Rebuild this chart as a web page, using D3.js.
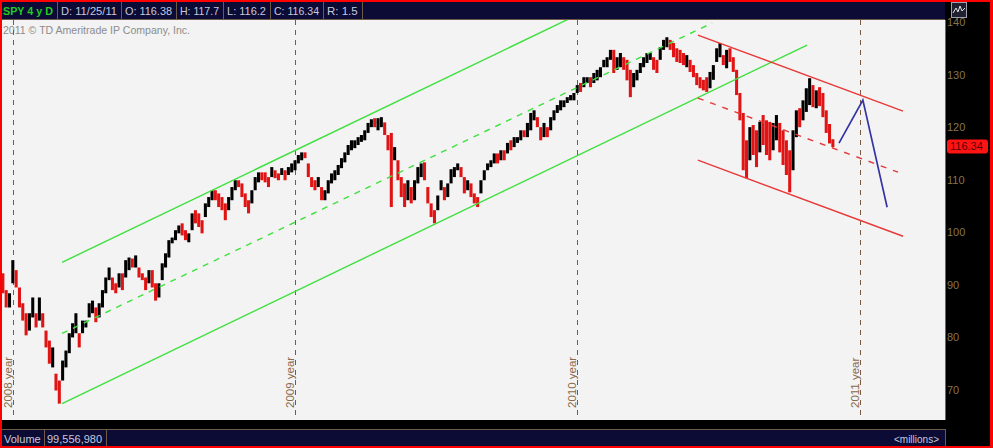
<!DOCTYPE html>
<html><head><meta charset="utf-8">
<script src="https://cdn.jsdelivr.net/npm/d3@7"></script>
<style>html,body{margin:0;padding:0;background:#000;} svg{display:block;font-family:"Liberation Sans",Arial,sans-serif;}</style>
</head><body><svg id="c" width="993" height="448"></svg>
<script>
// ---- data ----
const highs = [92.2,89.0,88.4,94.7,92.8,89.5,86.5,84.6,84.6,87.6,84.6,87.6,84.6,81.3,79.4,78.1,73.1,71.8,75.6,77.5,
80.8,82.7,84.6,80.8,83.2,83.2,86.5,87.0,85.7,86.5,89.0,91.4,93.3,91.4,90.3,92.2,92.2,94.7,95.2,95.0,
95.6,93.3,92.2,91.4,92.8,92.8,90.3,90.3,94.1,96.0,98.5,99.0,100.4,101.3,101.7,100.4,99.8,103.6,104.2,103.6,
102.3,105.5,106.7,108.0,108.0,107.4,106.7,105.5,106.7,108.6,109.9,109.9,109.3,107.4,106.1,108.0,110.5,111.4,111.4,111.4,
110.5,112.4,111.8,111.2,112.2,111.8,112.4,113.1,113.7,114.7,115.2,115.2,113.1,110.5,109.9,110.5,108.6,108.0,109.9,111.2,
111.8,112.8,114.1,115.2,116.6,117.5,117.5,118.1,118.5,119.4,120.8,121.5,121.7,121.7,121.9,120.9,118.5,118.9,116.2,113.7,
110.5,109.3,109.9,108.6,109.9,112.4,113.1,113.3,108.6,105.5,104.2,107.0,109.9,108.6,109.3,112.0,112.4,113.1,112.4,110.5,
109.9,109.3,107.4,106.7,109.9,111.8,113.1,113.7,115.0,115.0,115.6,115.6,117.0,117.5,118.1,118.1,119.4,119.4,120.8,122.7,
123.2,121.9,120.0,120.8,120.0,121.9,123.2,124.2,125.1,125.1,125.7,126.1,126.5,128.0,128.4,129.5,129.5,129.5,130.3,130.9,
131.4,132.8,133.3,134.7,134.7,133.3,134.1,133.3,132.8,130.9,130.3,130.9,132.2,133.3,134.1,134.1,133.3,132.8,135.2,136.6,
137.1,136.6,136.0,135.0,134.7,134.1,133.7,132.8,131.8,130.3,129.5,129.0,129.5,130.5,131.8,135.0,136.0,133.7,134.7,135.0,
133.3,130.9,126.5,122.7,117.5,120.0,120.4,119.4,121.0,122.3,121.3,121.0,120.8,122.3,120.8,119.4,117.5,115.6,119.4,123.2,
123.6,125.1,127.4,129.3,128.0,127.0,127.6,126.5,123.2,120.6,117.7];
const lows = [88.4,85.7,85.7,90.3,89.5,85.7,83.2,80.4,81.3,83.8,81.9,83.2,81.9,78.1,75.0,74.3,69.9,67.4,71.8,74.3,
77.0,80.0,80.8,78.1,80.8,81.9,83.8,84.6,82.9,83.8,85.7,88.4,90.9,89.0,88.4,89.5,89.0,91.4,92.8,93.3,
93.3,91.4,90.9,89.0,90.3,89.5,87.0,87.6,90.9,93.3,95.2,97.9,98.5,99.8,99.4,98.5,98.1,100.4,101.7,101.0,
99.8,102.9,104.8,106.1,106.1,104.8,104.2,102.3,104.2,106.1,108.0,108.6,106.7,104.8,103.6,105.5,108.0,109.5,109.9,109.5,
108.6,110.5,110.3,109.9,110.9,109.9,110.9,111.4,111.8,113.1,113.7,114.1,110.5,108.6,108.0,108.6,106.1,106.1,107.4,109.3,
109.9,110.9,112.2,113.3,114.7,115.6,116.0,116.6,117.2,117.5,118.9,120.0,120.0,119.4,120.0,118.5,115.6,104.8,113.7,109.9,
106.7,104.8,106.1,105.5,106.1,109.3,110.5,109.9,105.5,102.9,101.7,104.2,108.0,106.1,106.7,109.3,110.5,111.8,110.5,107.4,
108.0,106.7,105.5,104.8,107.4,109.9,111.8,112.4,113.1,113.1,113.7,113.7,115.0,115.6,116.2,117.0,117.5,118.1,118.1,119.4,
121.3,120.0,117.5,118.1,118.1,119.4,121.3,122.7,123.2,123.8,124.6,125.1,125.1,126.5,126.7,127.6,128.4,127.6,128.4,128.9,
129.5,131.4,131.4,132.8,130.3,130.9,131.4,130.9,128.9,125.7,127.6,128.9,130.3,131.4,132.2,132.8,130.9,130.3,132.8,134.7,
135.2,134.7,133.3,132.4,132.2,131.8,131.4,130.5,129.5,128.0,127.4,127.0,126.7,127.4,129.0,132.4,133.3,131.8,131.2,132.4,
130.5,126.1,121.3,111.8,110.3,113.7,114.7,112.4,115.2,116.6,114.7,113.7,115.6,117.5,115.2,112.8,110.9,107.6,111.8,118.1,
120.0,121.3,122.9,124.2,123.8,123.6,124.0,121.9,118.9,116.9,116.2];
const closes = [90.0,86.5,87.5,93.5,90.5,86.5,84.0,81.5,83.5,86.5,83.0,86.0,82.5,79.0,76.0,77.0,71.0,68.5,74.5,76.5,
80.0,81.5,83.5,79.0,82.5,82.8,85.5,86.0,83.5,86.0,88.5,90.5,92.5,89.5,89.0,91.5,89.5,94.0,94.5,94.0,
95.0,92.0,91.5,89.5,92.0,90.0,88.0,89.5,93.5,95.5,98.0,98.5,100.0,101.0,100.0,99.0,99.5,103.0,102.5,101.5,
100.5,105.0,106.0,107.5,106.8,105.5,105.0,103.0,106.0,108.0,109.5,109.0,107.5,105.5,104.5,107.5,110.0,111.0,110.5,110.0,
109.0,112.0,111.0,110.5,111.8,110.5,112.0,112.8,113.5,114.0,115.0,114.5,111.0,109.0,108.5,110.0,106.5,107.5,109.5,111.0,
111.0,112.5,113.5,114.5,116.0,116.0,117.0,117.5,118.0,118.5,120.5,121.0,120.5,121.0,121.5,119.0,116.0,113.0,115.5,110.5,
107.5,106.0,108.5,106.0,108.0,111.5,112.0,110.5,106.0,103.5,102.0,106.0,109.5,107.0,108.5,111.5,112.0,112.5,111.0,108.0,
109.0,107.5,106.0,105.5,109.0,111.5,112.5,113.0,114.5,113.5,115.0,114.5,116.5,116.0,117.5,117.5,119.0,118.5,120.5,122.0,
122.5,120.5,118.0,120.0,118.5,121.5,122.8,123.5,124.5,124.5,125.2,125.5,126.0,127.5,127.0,129.0,129.0,128.0,130.0,130.5,
131.0,132.5,133.0,134.0,131.0,132.5,133.5,131.5,129.5,127.0,129.5,130.0,132.0,132.8,133.5,133.5,131.5,131.0,134.5,136.0,
136.5,135.5,134.0,133.5,133.0,132.5,133.0,131.0,130.0,128.5,128.0,127.5,127.0,129.0,131.0,134.5,134.5,132.5,134.0,133.0,
131.0,127.0,122.0,113.0,112.0,118.0,116.0,114.0,120.0,119.0,117.0,115.0,119.0,121.0,117.0,114.0,112.0,109.0,117.5,122.0,
121.5,124.0,126.0,128.5,125.0,126.5,125.5,122.5,119.5,117.5,116.34];
const priceTicks = [70, 80, 90, 100, 110, 120, 130, 140];
const yearLabels = ["2008 year", "2009 year", "2010 year", "2011 year"];
const yearBars = [3, 88, 173, 258];
const headerCells = ["SPY 4 y D", "D: 11/25/11", "O: 116.38", "H: 117.7", "L: 116.2", "C: 116.34", "R: 1.5"];
const volumeCells = ["Volume", "99,556,980"];
const lastPrice = 116.34;
// drawn study lines: [bar index, price]
const greenUpper = [[17.8, 94.29], [171.0, 140.76]];
const greenMid   = [[17.8, 80.76], [213.6, 139.81]];
const greenLower = [[17.8, 67.43], [242.2, 135.62]];
const redUpper   = [[209.3, 137.52], [271.1, 123.05]];
const redMid     = [[209.3, 125.52], [269.6, 111.43]];
const redLower   = [[209.3, 113.71], [271.1, 99.24]];
const projection = [[251.8, 116.95], [259.0, 125.14], [266.3, 104.76]];

// ---- layout ----
const W = 993, H = 448;
const P = {l: 2, t: 20, r: 945, b: 420};
const headerSeps = [57, 121, 176, 223, 270, 323, 362];
const volumeSeps = [44, 106];
const svg = d3.select("#c");
const x = d3.scaleLinear().domain([0, highs.length - 1]).range([3, 833]);
const y = d3.scaleLinear().domain([70, 140]).range([390, 22]);

svg.append("rect").attr("width", W).attr("height", H).attr("fill", "#ff0000");
svg.append("rect").attr("x", 2).attr("y", 2).attr("width", 988).attr("height", 444).attr("fill", "#000");
svg.append("rect").attr("x", P.l).attr("y", P.t).attr("width", P.r - P.l).attr("height", P.b - P.t).attr("fill", "#f3f3f3");

svg.append("defs").append("clipPath").attr("id", "pc").append("rect")
  .attr("x", P.l).attr("y", P.t).attr("width", P.r - P.l).attr("height", P.b - P.t);
const g = svg.append("g").attr("clip-path", "url(#pc)");

// copyright
g.append("text").attr("x", 3).attr("y", 34).attr("font-size", 11).attr("fill", "#8c8c8c")
  .attr("textLength", 187).attr("lengthAdjust", "spacingAndGlyphs")
  .text("2011 \u00A9 TD Ameritrade IP Company, Inc.");

// year lines
yearBars.forEach((b, i) => {
  const xx = Math.round(x(b)) + 0.5;
  g.append("line").attr("x1", xx).attr("x2", xx).attr("y1", P.t).attr("y2", P.b)
    .attr("stroke", "#7d5a3e").attr("stroke-width", 1).attr("stroke-dasharray", "5,5");
  g.append("text").attr("transform", `translate(${xx - 1.5},${P.b - 12}) rotate(-90)`)
    .attr("font-size", 11.5).attr("fill", "#8a6a4c").text(yearLabels[i]);
});

// bars
const step = x(1) - x(0);
g.selectAll("rect.bar").data(highs).join("rect").attr("class", "bar")
  .attr("x", (d, i) => x(i) - step / 2)
  .attr("width", step * 0.92)
  .attr("y", d => y(d))
  .attr("height", (d, i) => Math.max(1, y(lows[i]) - y(d)))
  .attr("fill", (d, i) => (i === 0 ? closes[i] >= (highs[i] + lows[i]) / 2 : closes[i] >= closes[i - 1]) ? "#000000" : "#e01414");

// study lines
const line = d3.line().x(d => x(d[0])).y(d => y(d[1]));
const studies = [
  [greenUpper, "#3fe03f", null, 1.4],
  [greenMid, "#3fe03f", "6,6", 1.4],
  [greenLower, "#3fe03f", null, 1.4],
  [redUpper, "#e83838", null, 1.4],
  [redMid, "#e83838", "6,7", 1.4],
  [redLower, "#e83838", null, 1.4],
  [projection, "#3434a6", null, 1.7]
];
studies.forEach(([pts, col, dash, w]) => {
  g.append("path").attr("d", line(pts)).attr("fill", "none").attr("stroke", col)
    .attr("stroke-width", w).attr("stroke-dasharray", dash);
});

// plot border
svg.append("line").attr("x1", P.r + 0.5).attr("x2", P.r + 0.5).attr("y1", P.t).attr("y2", P.b)
  .attr("stroke", "#7a6650");

// right axis
const ax = svg.append("g").attr("transform", `translate(${P.r},0)`)
  .call(d3.axisRight(y).tickValues(priceTicks).tickSize(0).tickPadding(2).tickFormat(d3.format("d")));
ax.select(".domain").remove();
ax.selectAll("text").attr("fill", "#85744f").attr("font-size", 11)
  .attr("font-family", '"Liberation Sans",Arial,sans-serif');

// last price tag
const ly = y(lastPrice);
svg.append("rect").attr("x", 947).attr("y", ly - 7).attr("width", 41).attr("height", 14).attr("rx", 3)
  .attr("fill", "#ff1414");
svg.append("text").attr("x", 950).attr("y", ly).attr("dy", "0.35em").attr("font-size", 11)
  .attr("fill", "#5a0000").text(d3.format(".2f")(lastPrice));

// icon top right
svg.append("rect").attr("x", 951.5).attr("y", 2.5).attr("width", 15).attr("height", 15)
  .attr("fill", "#202030").attr("stroke", "#a0a0b0");
svg.append("path").attr("d", "M953,13 L956,8 L958,12 L960,6 L962,11 L965,8")
  .attr("fill", "none").attr("stroke", "#e0e0e0").attr("stroke-width", 1);

// header bar
svg.append("rect").attr("x", 2).attr("y", 2).attr("width", P.r - 2).attr("height", 17).attr("fill", "#0b0b36");
svg.append("line").attr("x1", 2).attr("x2", P.r).attr("y1", 19.5).attr("y2", 19.5).attr("stroke", "#6e5a48");
headerCells.forEach((t, i) => {
  const x0 = i === 0 ? 3 : headerSeps[i - 1] + 4;
  const tx = svg.append("text").attr("x", x0).attr("y", 15).attr("font-size", 11.5)
    .attr("fill", i === 0 ? "#22cc22" : "#c8c8dc").attr("font-weight", i === 0 ? "bold" : "normal").text(t);
  const avail = headerSeps[i] - 4 - x0;
  if (tx.node().getComputedTextLength() > avail) tx.attr("textLength", avail).attr("lengthAdjust", "spacingAndGlyphs");
  const sx = headerSeps[i] + 0.5;
  svg.append("line").attr("x1", sx).attr("x2", sx).attr("y1", 2).attr("y2", 19).attr("stroke", "#6e5a48");
});

// volume bar
svg.append("rect").attr("x", 2).attr("y", 429).attr("width", P.r - 2).attr("height", 17).attr("fill", "#0b0b36");
svg.append("line").attr("x1", 2).attr("x2", P.r).attr("y1", 429.5).attr("y2", 429.5).attr("stroke", "#6e5a48");
volumeCells.forEach((t, i) => {
  const x0 = i === 0 ? 4 : volumeSeps[i - 1] + 3;
  svg.append("text").attr("x", x0).attr("y", 443).attr("font-size", 11).attr("fill", "#c8c8dc").text(t);
  const sx = volumeSeps[i] + 0.5;
  svg.append("line").attr("x1", sx).attr("x2", sx).attr("y1", 429).attr("y2", 446).attr("stroke", "#6e5a48");
});
svg.append("line").attr("x1", P.r + 0.5).attr("x2", P.r + 0.5).attr("y1", 429).attr("y2", 446).attr("stroke", "#6e5a48");
svg.append("text").attr("x", P.r - 6).attr("y", 443).attr("text-anchor", "end").attr("font-size", 10)
  .attr("fill", "#c8c8dc").text("<millions>");
</script></body></html>
